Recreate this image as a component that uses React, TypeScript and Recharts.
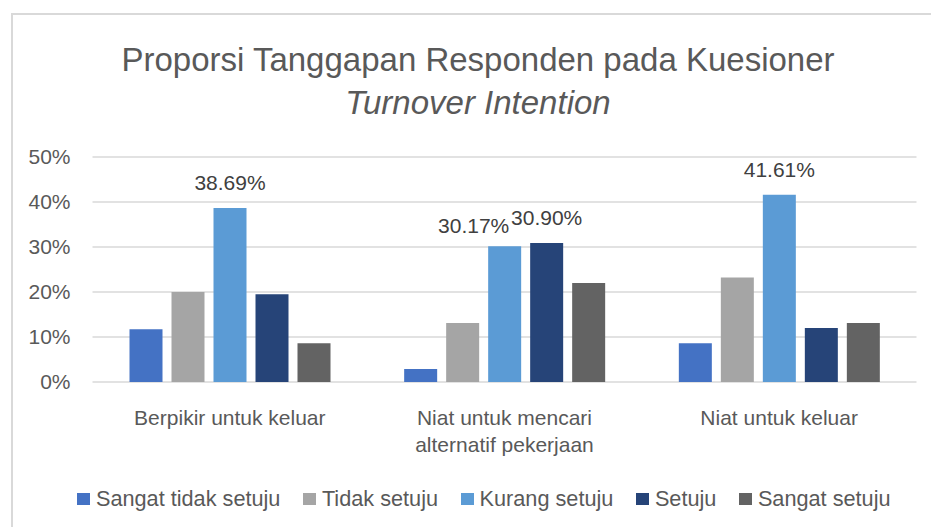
import { BarChart, Bar, XAxis, YAxis, CartesianGrid, LabelList } from 'recharts'

const categories = ['Berpikir untuk keluar', 'Niat untuk mencari alternatif pekerjaan', 'Niat untuk keluar']
const seriesNames = ['Sangat tidak setuju', 'Tidak setuju', 'Kurang setuju', 'Setuju', 'Sangat setuju']
const sangatTidakSetuju = [11.7, 2.9, 8.6]
const tidakSetuju = [20.0, 13.1, 23.2]
const kurangSetuju = [38.69, 30.17, 41.61]
const setuju = [19.5, 30.9, 12.0]
const sangatSetuju = [8.6, 22.0, 13.1]
const yTicks = [0, 10, 20, 30, 40, 50]

// which points carry a value label (series index -> category indexes)
const labelled: Record<number, number[]> = { 2: [0, 1, 2], 3: [1] }

const colors = ['#4472C4', '#A5A5A5', '#5B9BD5', '#264478', '#636363']
const font = "'Liberation Sans', Arial, sans-serif"
const textColor = '#595959'

const values = [sangatTidakSetuju, tidakSetuju, kurangSetuju, setuju, sangatSetuju]
const data = categories.map((name, i) => {
	const row: Record<string, string | number> = { name }
	seriesNames.forEach((s, k) => (row[s] = values[k][i]))
	return row
})

// greedy word wrap, like excel does for long category names
const wrap = (str: string, max = 21) => {
	const lines: string[] = []
	let cur = ''
	str.split(' ').forEach((w) => {
		if (cur && (cur + ' ' + w).length > max) {
			lines.push(cur)
			cur = w
		} else cur = cur ? cur + ' ' + w : w
	})
	if (cur) lines.push(cur)
	return lines
}

const makeLabel = (seriesIdx: number) => (props: any) => {
	const { x, y, width, value, index } = props
	if (!(labelled[seriesIdx] || []).includes(index)) return null
	// excel nudged the 30.17% label left so it clears its neighbour
	const nudged = seriesIdx === 2 && index === 1
	return (
		<text
			x={x + width / 2 + (nudged ? -31 : 0)}
			y={y - (nudged ? 13 : 17.5)}
			textAnchor='middle'
			fill='#404040'
			fontSize={21}
			fontFamily={font}
		>
			{Number(value).toFixed(2) + '%'}
		</text>
	)
}

const CategoryTick = (props: any) => {
	const { x, y, payload } = props
	return (
		<text x={x} y={y + 41} textAnchor='middle' fill={textColor} fontSize={21} fontFamily={font}>
			{wrap(payload.value).map((line, i) => (
				<tspan key={i} x={x} dy={i === 0 ? 0 : 27}>
					{line}
				</tspan>
			))}
		</text>
	)
}

export default function App() {
	return (
		<div style={{ position: 'absolute', left: 0, top: 0, width: 931, height: 527, overflow: 'hidden', background: '#fff', fontFamily: font }}>
			<div style={{ position: 'absolute', left: 11, top: 13, width: 960, height: 560, border: '2px solid #d9d9d9', boxSizing: 'border-box' }} />
			<div style={{ position: 'absolute', left: 0, top: 38, width: 956, textAlign: 'center', color: textColor, fontSize: 33, lineHeight: '43px' }}>
				<div>Proporsi Tanggapan Responden pada Kuesioner</div>
				<div style={{ fontStyle: 'italic' }}>Turnover Intention</div>
			</div>
			<BarChart
				width={931}
				height={527}
				data={data}
				margin={{ top: 157, right: 14.5, left: 0, bottom: 85 }}
				barCategoryGap={37}
				barGap={9}
				style={{ position: 'absolute', left: 0, top: 0 }}
			>
				<CartesianGrid vertical={false} stroke='#d9d9d9' strokeWidth={1.5} />
				<XAxis dataKey='name' axisLine={false} tickLine={false} tickSize={0} height={60} interval={0} tick={<CategoryTick />} />
				<YAxis
					domain={[0, 50]}
					ticks={yTicks}
					width={92.5}
					axisLine={false}
					tickLine={false}
					tickSize={0}
					tickMargin={22}
					tickFormatter={(v: number) => v + '%'}
					tick={{ fill: textColor, fontSize: 21, fontFamily: font }}
				/>
				{seriesNames.map((s, k) => (
					<Bar key={s} dataKey={s} fill={colors[k]} isAnimationActive={false}>
						<LabelList dataKey={s} content={makeLabel(k)} />
					</Bar>
				))}
			</BarChart>
			<div
				style={{
					position: 'absolute',
					left: 0,
					top: 486,
					width: 968,
					height: 26,
					display: 'flex',
					justifyContent: 'center',
					alignItems: 'center',
					color: textColor,
					fontSize: 21.7,
				}}
			>
				{seriesNames.map((s, k) => (
					<div key={s} style={{ display: 'flex', alignItems: 'center', marginRight: k < seriesNames.length - 1 ? 23 : 0 }}>
						<span style={{ width: 12.5, height: 12.5, background: colors[k], marginRight: 6, display: 'inline-block' }} />
						<span>{s}</span>
					</div>
				))}
			</div>
		</div>
	)
}
